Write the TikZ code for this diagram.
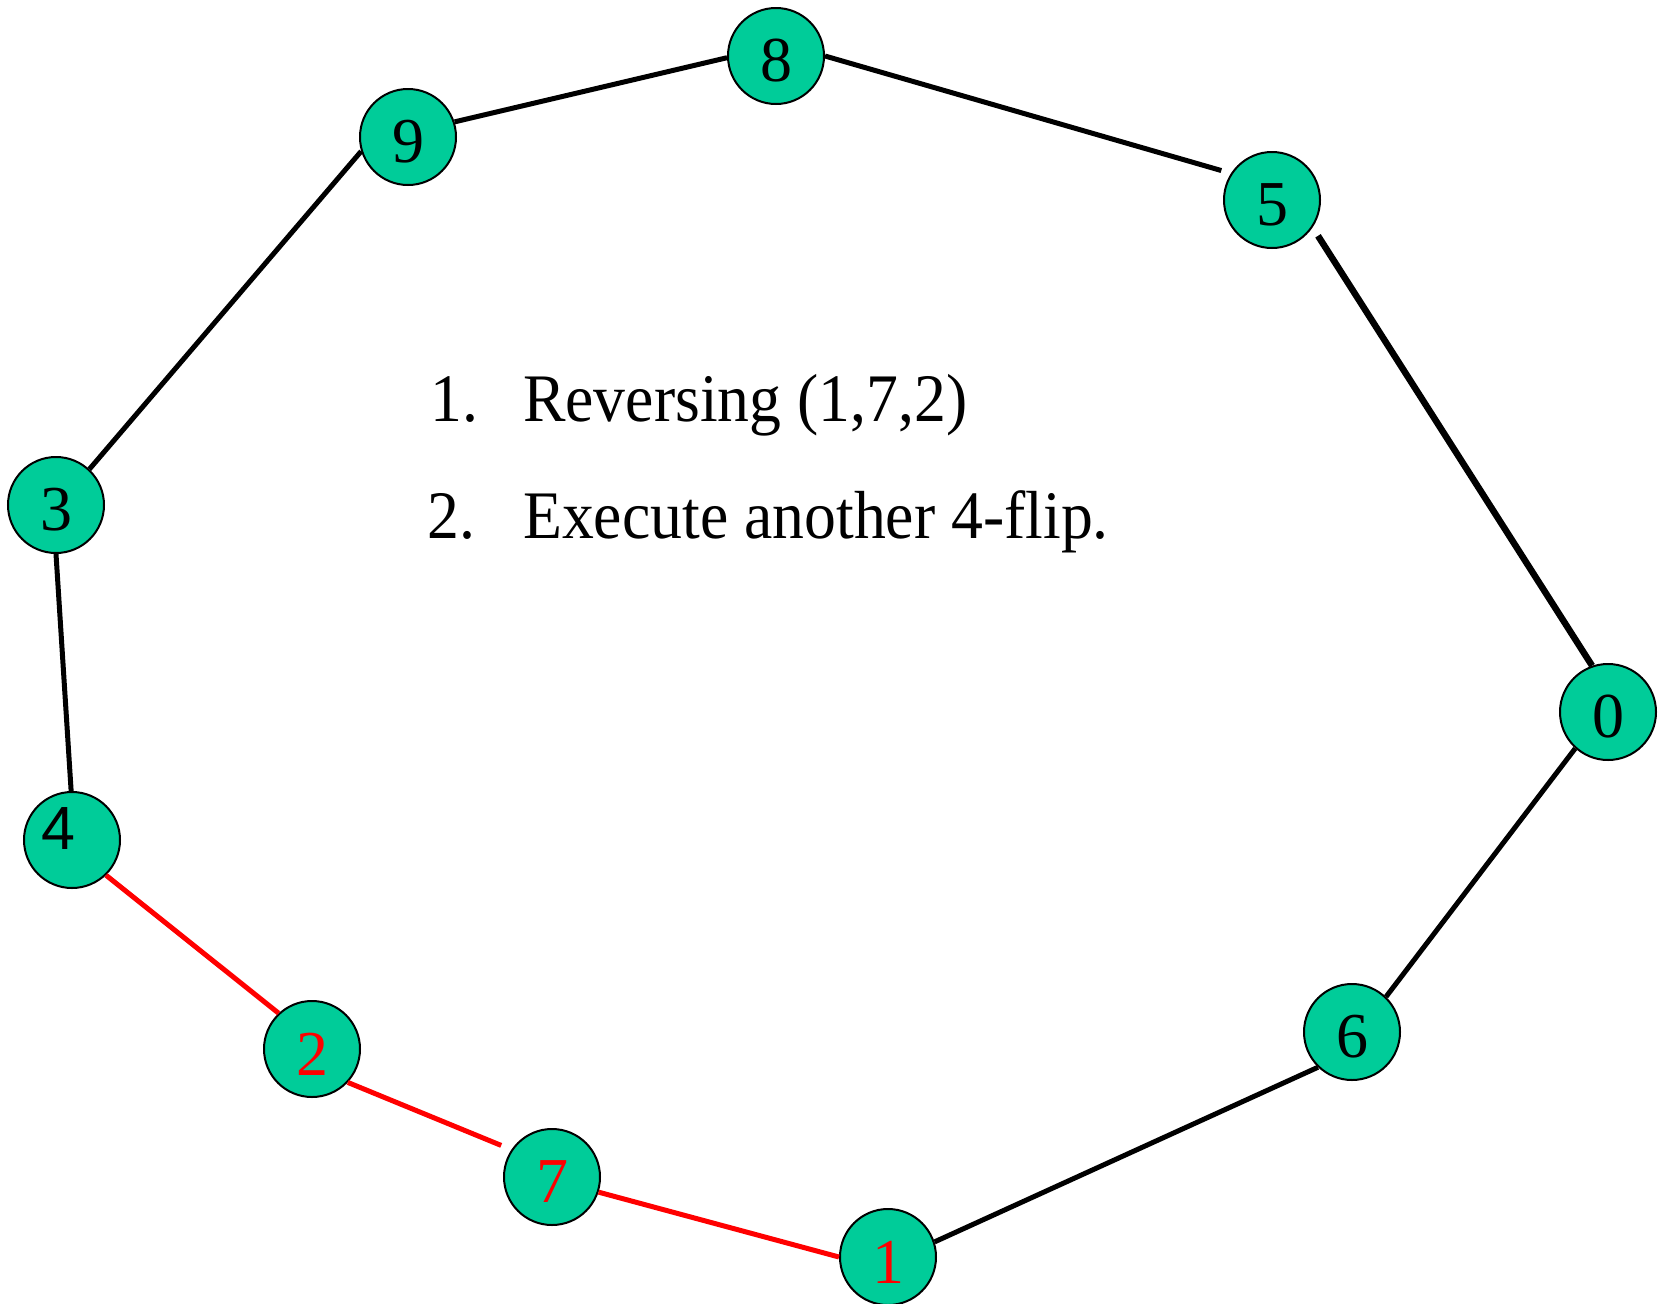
\documentclass[tikz,border=0pt]{standalone}
\usepackage{fontspec}
\setmainfont{Liberation Serif}
\newfontfamily\sansdigit{Liberation Sans}
\newfontfamily\listfont[FakeStretch=0.937]{Liberation Serif}
\definecolor{nodegreen}{RGB}{0,204,153}
\definecolor{tourred}{RGB}{255,0,0}
% set a glyph a little below the middle of its circle, keeping its box
\newcommand\lowered[1]{\raisebox{-5pt}[\height][\depth]{#1}}
\tikzset{
  vert/.style={circle, draw=black, line width=2pt, fill=nodegreen,
    minimum size=96pt, inner sep=0pt, font=\fontsize{64}{64}\selectfont},
  edge/.style={draw=black, line width=5pt},
  thickedge/.style={draw=black, line width=6.5pt},
  redge/.style={draw=tourred, line width=5pt},
  listtext/.style={anchor=base west, inner sep=0pt,
    font=\listfont\fontsize{68}{68}\selectfont}
}
\begin{document}
\begin{tikzpicture}[x=1pt, y=-1pt]
\useasboundingbox (0,0) rectangle (1663,1304);

% vertices
\node[vert] (n8) at (776,56)   {\lowered{8}};
\node[vert] (n9) at (408,137)  {\lowered{9}};
\node[vert] (n5) at (1272,200) {\lowered{5}};
\node[vert] (n3) at (56,505)   {\lowered{3}};
\node[vert] (n0) at (1608,712) {\lowered{0}};
\node[vert] (n4) at (72,840)   {};
\node[vert] (n2) at (312,1049) {\lowered{\textcolor{tourred}{2}}};
\node[vert] (n6) at (1352,1032){\lowered{6}};
\node[vert] (n7) at (552,1177) {\lowered{\textcolor{tourred}{7}}};
\node[vert] (n1) at (888,1257) {\lowered{\textcolor{tourred}{1}}};
\node[font=\sansdigit\fontsize{61}{61}\selectfont, inner sep=0pt] (l4) at (58,829) {4};

% black edges
\draw[edge] (n9.18) -- (n8.182);
\draw[edge, shorten >=10pt] (n8.0) -- (n5.147);
\draw[thickedge, shorten <=10pt] (n5.-34.5) -- (n0.109);
\draw[edge] (n0.228) -- (n6.46);
\draw[edge] (n6.226) -- (n1.18);
\draw[edge] (n4.91) -- (n3.-90);
\draw[edge] (n3.47) -- (n9.197);

% reversed segment
\draw[redge] (n1.180) -- (n7.-18);
\draw[redge, shorten <=11pt] (n7.146) -- (n2.-43);
\draw[redge] (n2.133) -- (n4.-46);

% numbered list
\node[listtext] (m1) at (430,421) {1.};
\node[listtext] (t1) at (523,421) {Reversing (1,7,2)};
\node[listtext] (m2) at (427,538) {2.};
\node[listtext] (t2) at (523,538) {Execute another 4-flip.};
\end{tikzpicture}
\end{document}
